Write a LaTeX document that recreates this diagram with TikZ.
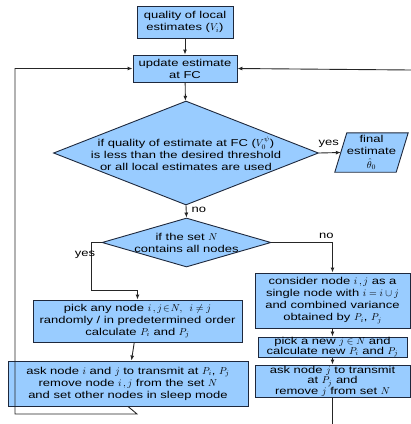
\documentclass[tikz,border=0pt]{standalone}
\usepackage{fontspec}
\setmainfont{Liberation Sans}[FakeStretch=1.3]
\usetikzlibrary{shapes.geometric,arrows.meta,calc}
\definecolor{boxblue}{RGB}{153,204,255}
\definecolor{edge}{RGB}{30,40,60}
\tikzset{
  box/.style={draw=edge, fill=boxblue, line width=0.9pt, inner sep=0pt, align=center, font=\fontsize{10}{12}\selectfont},
  dia/.style={draw=edge, fill=boxblue, line width=0.9pt, diamond, inner sep=0pt},
  txt/.style={align=center, inner sep=0pt, font=\fontsize{10}{12}\selectfont},
  conn/.style={line width=0.9pt, draw=black!85},
  arr/.style={conn, -{Latex[length=5pt,width=4pt]}},
  lbl/.style={inner sep=0pt, font=\fontsize{10}{12}\selectfont}
}
\begin{document}
\begin{tikzpicture}[x=1pt,y=-1pt]
\useasboundingbox (0,0) rectangle (411,424);
% top boxes
\node[box, minimum width=96pt, minimum height=32pt] (q) at (185,22) {quality of local\\estimates ($V_i$)};
\node[box, minimum width=104pt, minimum height=27pt] (u) at (185,68.5) {update estimate\\at FC};
% diamond 1
\node[dia, minimum width=265pt, minimum height=104pt] (d1) at (186,153) {};
\node[txt] (d1t) at (186,154) {if quality of estimate at FC ($V_0^{\psi}$)\\is less than the desired threshold\\or all local estimates are used};
% final estimate parallelogram
\node[inner sep=0pt, minimum width=61pt, minimum height=39pt] (fin) at (371.5,152.5) {};
\draw[draw=edge, fill=boxblue, line width=0.9pt] ($(fin.north west)+(6,0)$) coordinate (p1) -- ($(fin.north east)+(6,0)$) coordinate (p2) -- ($(fin.south east)+(-6,0)$) coordinate (p3) -- ($(fin.south west)+(-6,0)$) coordinate (p4) -- cycle;
\node[txt, font=\fontsize{10}{12}\selectfont] (fint) at (fin.center) {final\\estimate\\[1.5pt]$\hat{\theta}_0$};
% diamond 2
\node[dia, minimum width=169pt, minimum height=49pt] (d2) at (186.5,242.5) {};
\node[txt] (d2t) at (186.5,243) {if the set $N$\\contains all nodes};
% left column
\node[box, minimum width=209pt, minimum height=42pt] (a) at (137.5,321) {pick any node $i\,,j\!\in\! N,\;\; i\neq j$\\randomly / in predetermined order\\calculate $P_i$ and $P_j$};
\node[box, minimum width=240pt, minimum height=45pt] (b) at (128,383.5) {ask node $i$ and $j$ to transmit at $P_i$, $P_j$\\remove node $i\,,j$ from the set $N$\\and set other nodes in sleep mode};
% right column
\node[box, minimum width=155pt, minimum height=55pt] (c) at (332.5,300.5) {consider node $i\,,j$ as a\\single node with $i=i\cup j$\\and combined variance\\obtained by $P_i$, $P_j$};
\node[box, minimum width=149pt, minimum height=20pt, font=\fontsize{10}{10}\selectfont] (dd) at (332.5,347) {pick a new $j\in N$ and\\calculate new $P_i$ and $P_j$};
\node[box, minimum width=155pt, minimum height=32pt, font=\fontsize{10}{10.5}\selectfont] (e) at (332.5,381) {ask node $j$ to transmit\\at $P_j$ and\\remove $j$ from set $N$};
% coordinates
\coordinate (rin) at (411,70);
\coordinate (bout) at (332.5,424);
% connectors
\draw[arr] (q) -- (u);
\draw[arr] (u) -- (d1);
\draw[arr] (d1.east) -- (fin.west) node[lbl, pos=0.45, above=5pt] (yes1) {yes};
\draw[arr] (d1.south) -- (d2.north) node[lbl, pos=0.35, right=5pt] (no1) {no};
\draw[arr] (d2.east) -| (c.north) node[lbl, pos=0.45, above=3pt] (no2) {no};
\draw[arr] (d2.west) -- (91,242.5) -- (91,290) -| (a.north);
\node[lbl] (yes2) at (85,255) {yes};
\draw[arr] (a) -- (b);
\draw[arr] (c) -- (dd);
\draw[arr] (dd) -- (e);
\draw[arr] (b.south) -- (137,414) -- (15,414) |- (u.west);
\draw[arr] (rin) -- (u.east);
\draw[conn] (e.south) -- (bout);
\end{tikzpicture}
\end{document}
